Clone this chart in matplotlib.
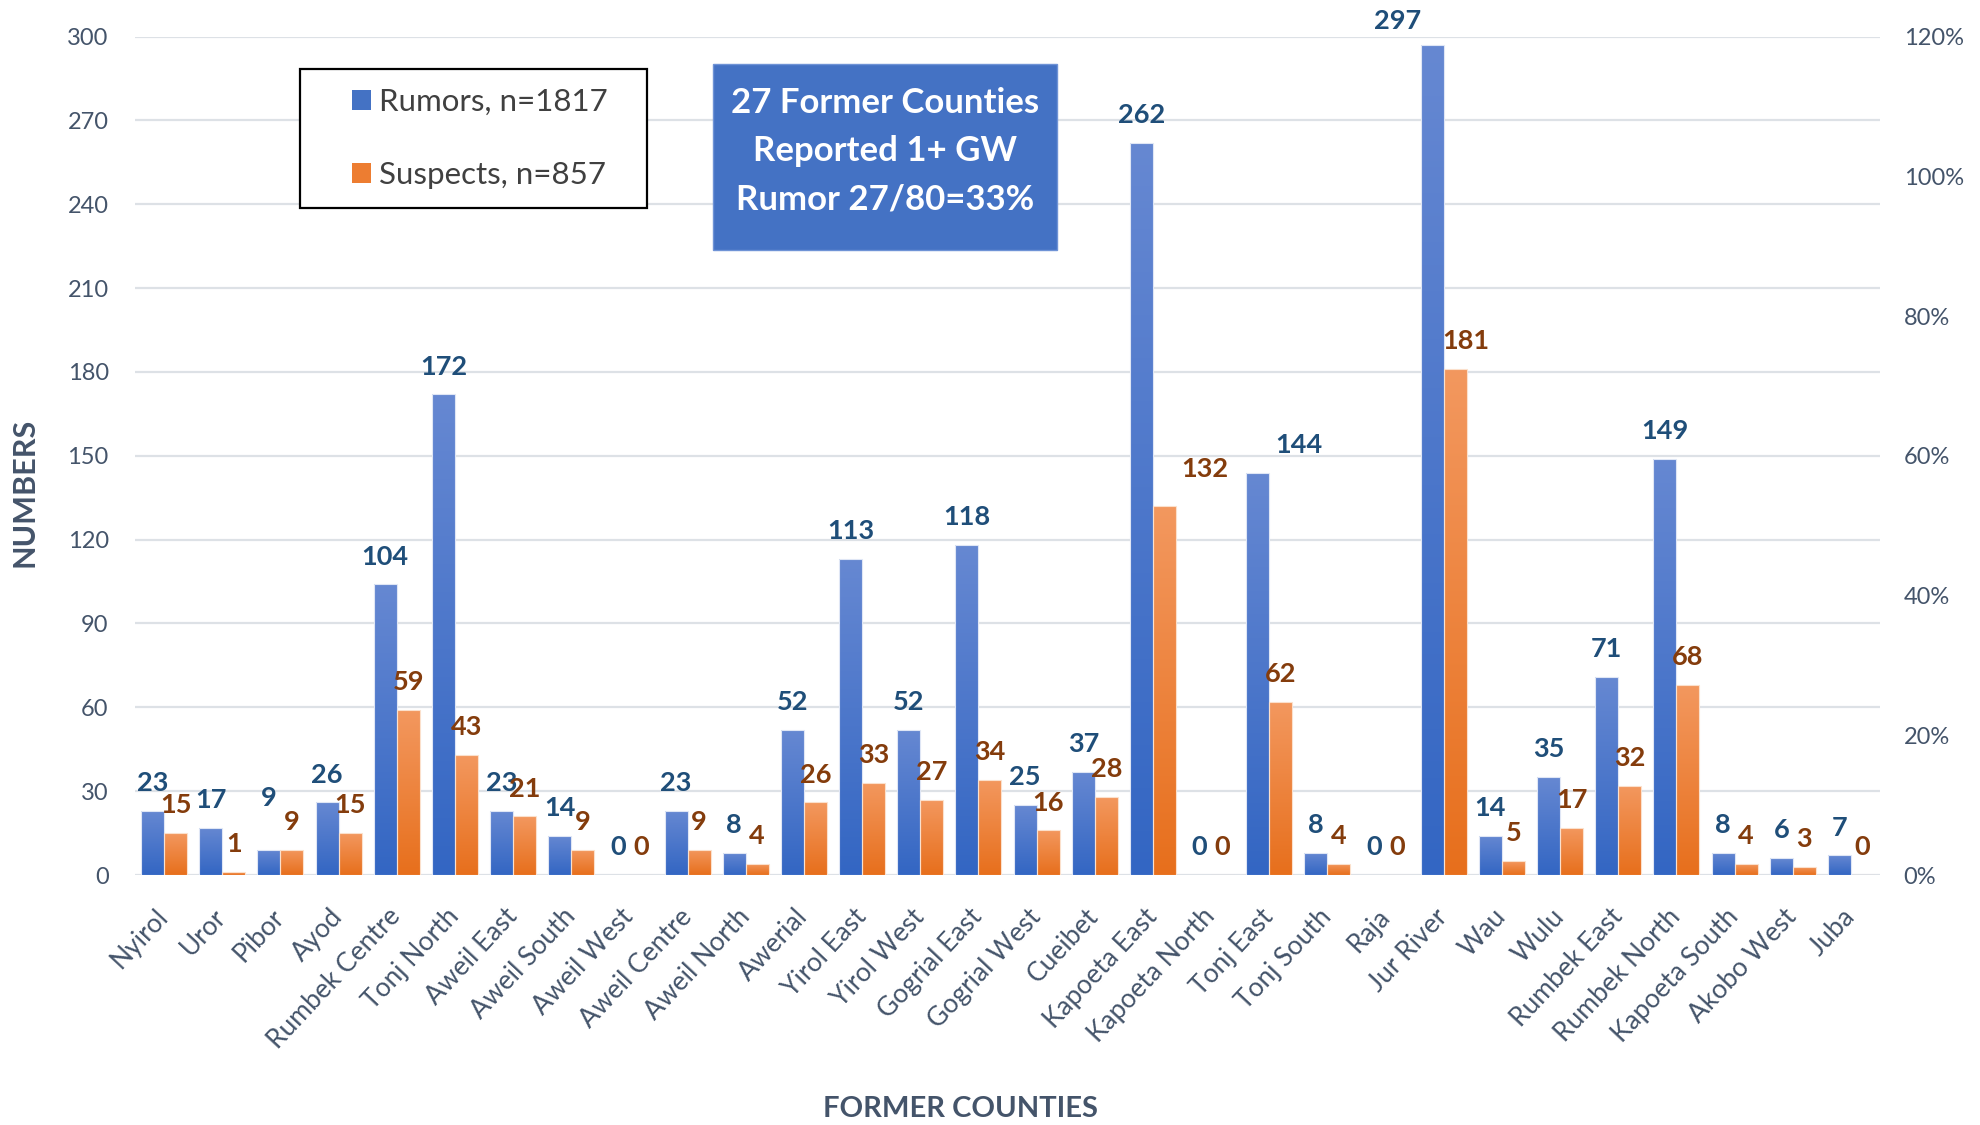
import numpy as np
import matplotlib.pyplot as plt
from matplotlib.colors import LinearSegmentedColormap
from matplotlib.patches import Rectangle, Patch
from matplotlib.ticker import PercentFormatter

plt.rcParams['font.family'] = ['Lato', 'DejaVu Sans']

# data
counties = ['Nyirol', 'Uror', 'Pibor', 'Ayod', 'Rumbek Centre', 'Tonj North',
            'Aweil East', 'Aweil South', 'Aweil West', 'Aweil Centre', 'Aweil North',
            'Awerial', 'Yirol East', 'Yirol West', 'Gogrial East', 'Gogrial West',
            'Cueibet', 'Kapoeta East', 'Kapoeta North', 'Tonj East', 'Tonj South',
            'Raja', 'Jur River', 'Wau', 'Wulu', 'Rumbek East', 'Rumbek North',
            'Kapoeta South', 'Akobo West', 'Juba']
rumors = [23, 17, 9, 26, 104, 172, 23, 14, 0, 23, 8, 52, 113, 52, 118, 25, 37,
          262, 0, 144, 8, 0, 297, 14, 35, 71, 149, 8, 6, 7]
suspects = [15, 1, 9, 15, 59, 43, 21, 9, 0, 9, 4, 26, 33, 27, 34, 16, 28,
            132, 0, 62, 4, 0, 181, 5, 17, 32, 68, 4, 3, 0]
left_ticks = [0, 30, 60, 90, 120, 150, 180, 210, 240, 270, 300]
right_ticks = [0, 0.2, 0.4, 0.6, 0.8, 1.0, 1.2]

legend_labels = ['Rumors, n=1817', 'Suspects, n=857']
note = '27 Former Counties\nReported 1+ GW\nRumor 27/80=33%'

# hand-moved data labels in the original: (dx in categories, dy in points)
label_nudge = {('r', 'Pibor'): (0, 17), ('r', 'Tonj East'): (0.71, 0),
               ('s', 'Kapoeta East'): (0.7, 7), ('r', 'Jur River'): (-0.6, -3),
               ('s', 'Jur River'): (0.19, 0)}

blue_top, blue_bot = '#6688d2', '#3366c3'
orng_top, orng_bot = '#f3985f', '#e76f1c'
grey = '#44546a'

fig = plt.figure(figsize=(19.8, 11.25), dpi=100)
ax = fig.add_axes([0.0682, 0.2222, 0.8813, 0.7453])

x = np.arange(len(counties))
w = 0.395
b1 = ax.bar(x - w / 2, rumors, w, color='none', edgecolor='#dfe6f5', lw=0.8, zorder=3)
b2 = ax.bar(x + w / 2, suspects, w, color='none', edgecolor='#fbe0cc', lw=0.8, zorder=3)


def shade(bars, top, bot):
    cm = LinearSegmentedColormap.from_list('g', [bot, top])
    grad = np.linspace(0, 1, 256).reshape(-1, 1)
    for b in bars:
        if b.get_height() <= 0:
            continue
        x0, y0 = b.get_x(), b.get_y()
        im = ax.imshow(grad, cmap=cm, origin='lower', aspect='auto', zorder=2.5,
                       extent=[x0, x0 + b.get_width(), y0, y0 + b.get_height()])
        im.set_clip_path(b)


shade(b1, blue_top, blue_bot)
shade(b2, orng_top, orng_bot)

for key, bars, vals, col in [('r', b1, rumors, '#1f4e79'), ('s', b2, suspects, '#843c0c')]:
    for name, b, v in zip(counties, bars, vals):
        dx, dy = label_nudge.get((key, name), (0, 0))
        ax.annotate(str(v), (b.get_x() + b.get_width() / 2 + dx, v),
                    xytext=(0, 20 + dy), textcoords='offset points',
                    ha='center', va='center', fontsize=19.5, fontweight='bold',
                    color=col, zorder=5)

ax.set_xlim(-0.5, len(counties) - 0.5)
ax.set_ylim(0, 300)
ax.set_yticks(left_ticks)
ax.set_xticks(x)
ax.set_xticklabels(counties, rotation=47, ha='right', va='center',
                   rotation_mode='anchor', fontsize=19, color=grey)
ax.tick_params(axis='x', length=0, pad=27)
ax.tick_params(axis='y', length=0, pad=19, labelsize=17, labelcolor=grey)
ax.grid(axis='y', color='#dde1e6', lw=1.6, zorder=0)
ax.set_axisbelow(True)
for s in ax.spines.values():
    s.set_visible(False)

ax2 = ax.twinx()
ax2.set_ylim(0, 1.2)
ax2.set_yticks(right_ticks)
ax2.yaxis.set_major_formatter(PercentFormatter(1.0, decimals=0))
ax2.tick_params(axis='y', length=0, pad=17, labelsize=17, labelcolor=grey)
for s in ax2.spines.values():
    s.set_visible(False)

# legend box
ax.add_patch(Rectangle((0.0946, 0.7956), 0.1989, 0.1658, transform=ax.transAxes,
                       facecolor='white', edgecolor='black', lw=1.6, zorder=6))
handles = [Patch(facecolor='#4472c4'), Patch(facecolor='#ed7d31')]
leg = ax.legend(handles, legend_labels, loc='center', bbox_to_anchor=(0.1974, 0.8785),
                frameon=False, fontsize=22.5, handlelength=0.62, handleheight=0.62,
                handletextpad=0.25, labelspacing=1.45, borderpad=0, labelcolor='#404040')
leg.set_zorder(7)

# blue note box
fig.patches.append(Rectangle((0.360, 0.7778), 0.1737, 0.1653, transform=fig.transFigure,
                             facecolor='#4472c4', edgecolor='#6f93d6', lw=1, zorder=8))
fig.text(0.447, 0.8655, note, ha='center', va='center', color='white',
         fontsize=25, fontweight='bold', linespacing=1.62, zorder=9)

fig.text(0.0126, 0.5627, 'NUMBERS', rotation=90, ha='center', va='center',
         fontsize=22, fontweight='bold', color=grey)
fig.text(0.485, 0.0142, 'FORMER COUNTIES', ha='center', va='center',
         fontsize=21, fontweight='bold', color=grey)

fig.savefig('out.png', dpi=100)
